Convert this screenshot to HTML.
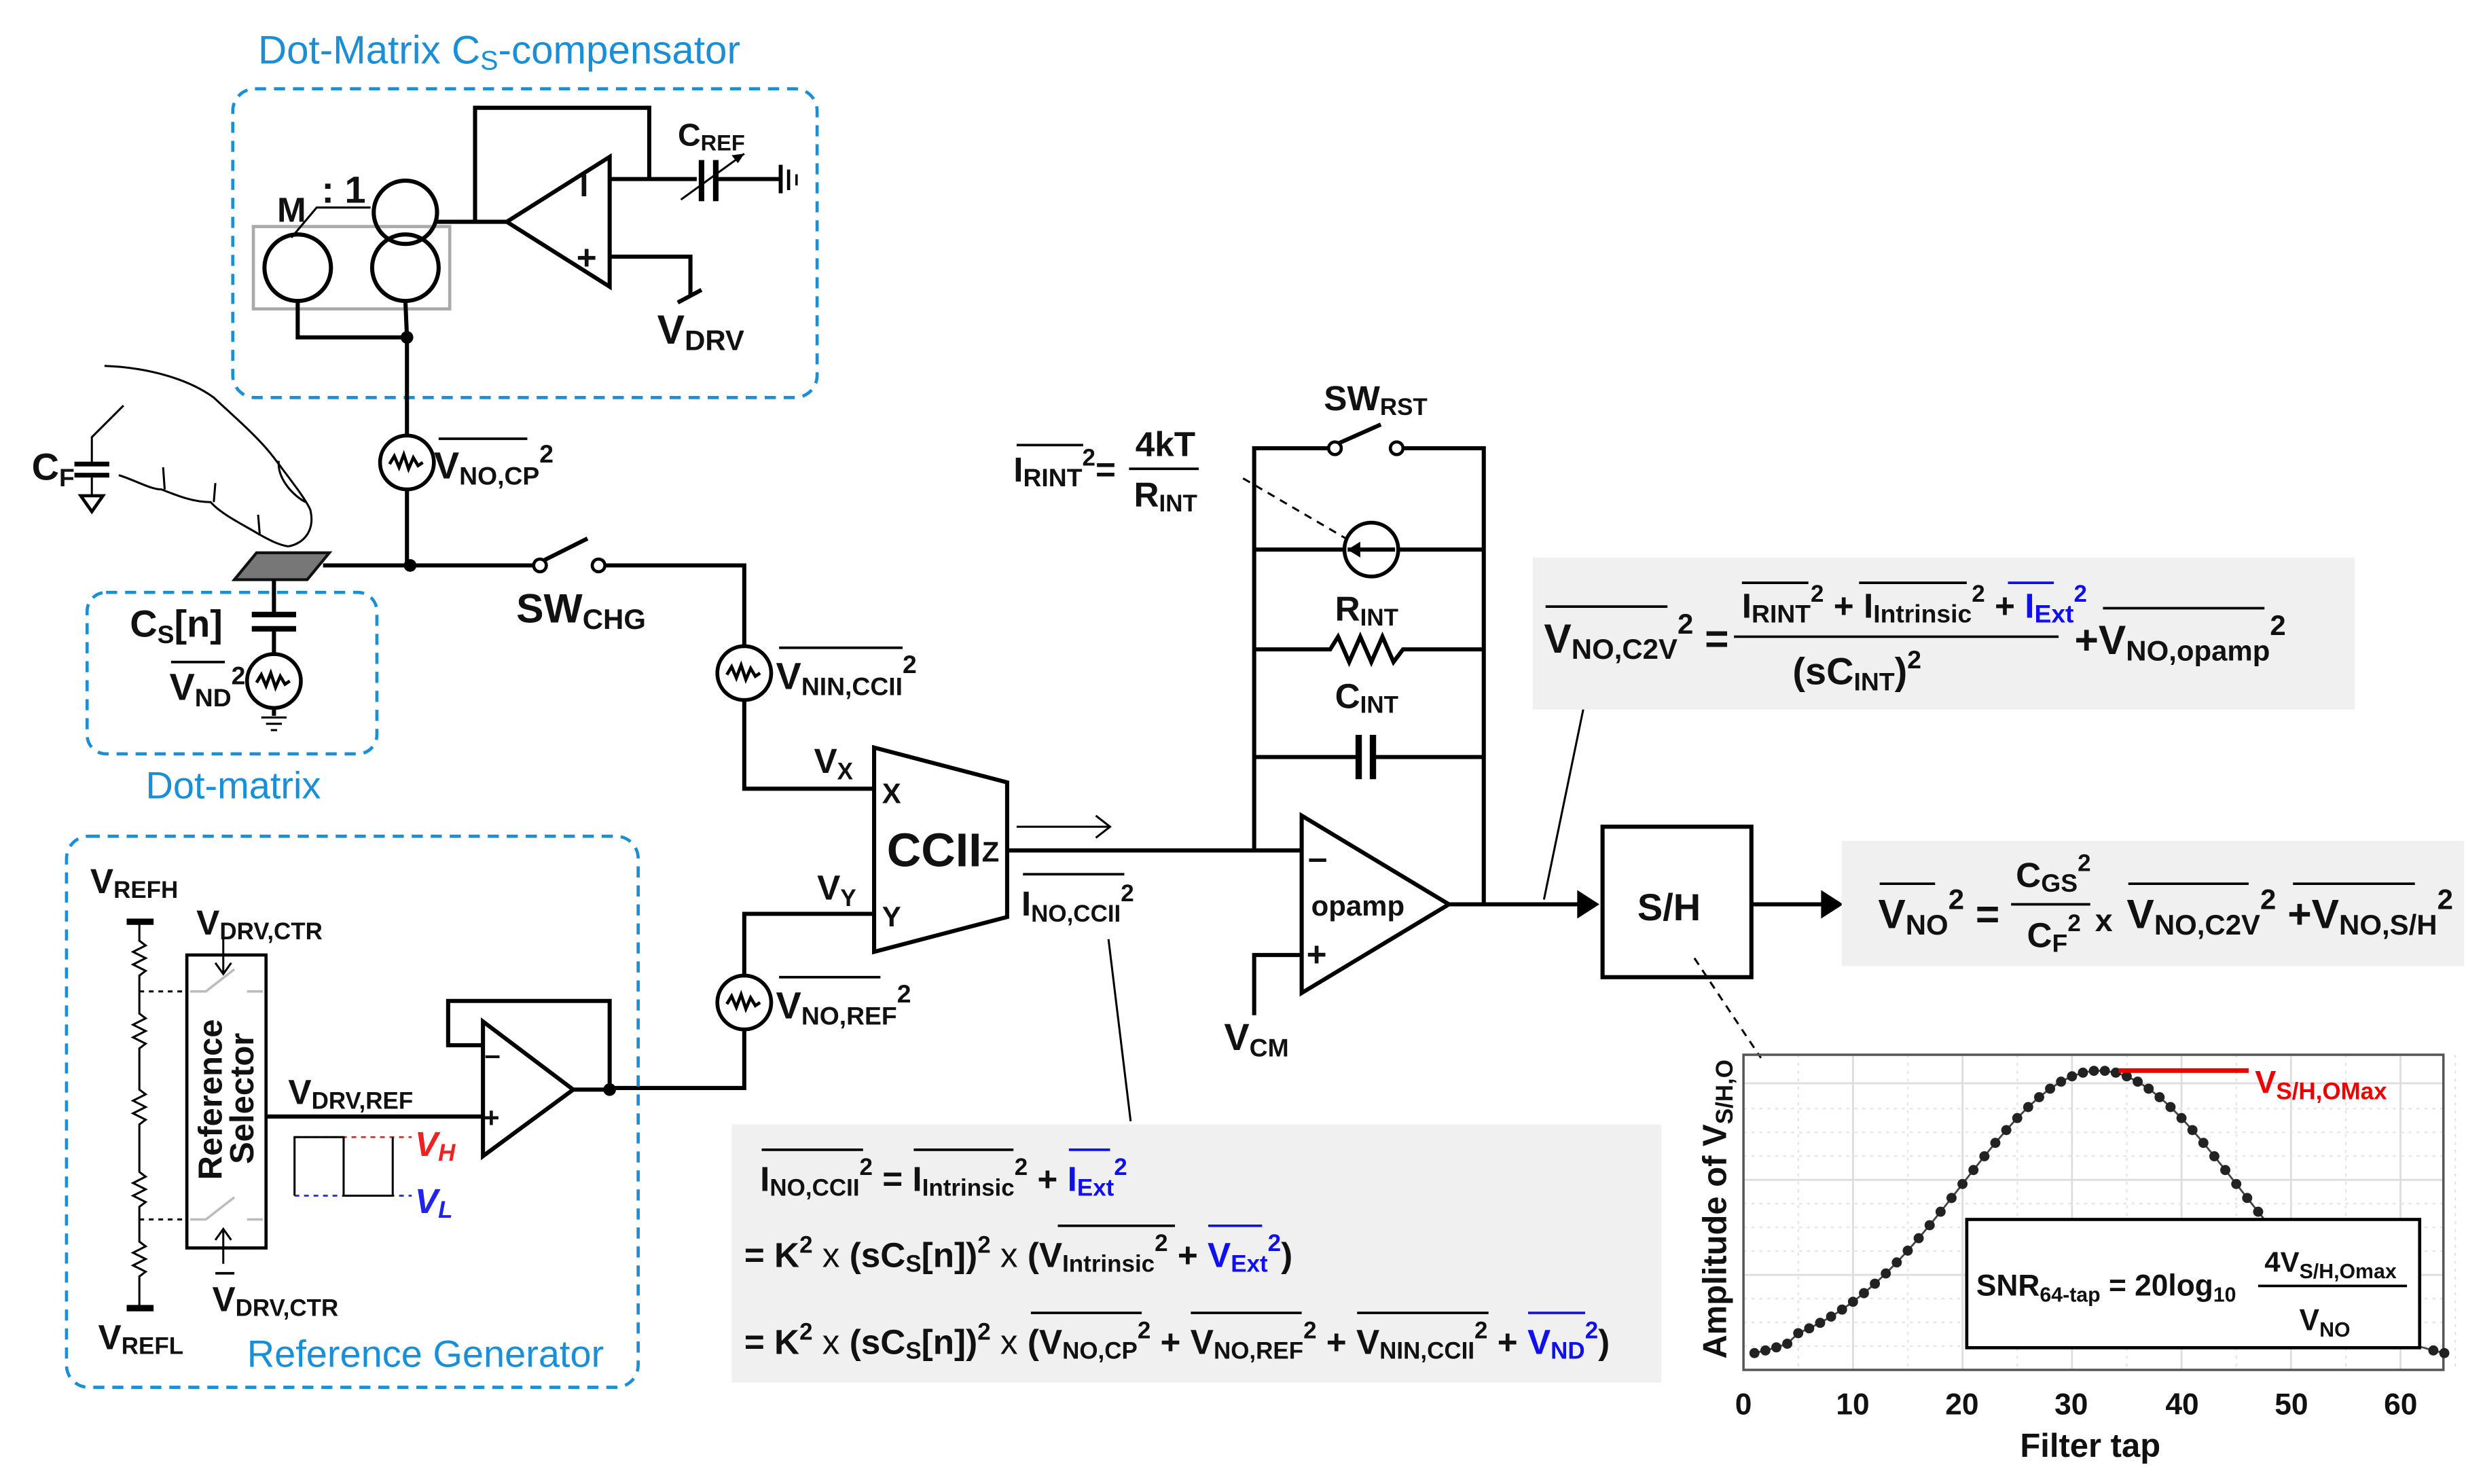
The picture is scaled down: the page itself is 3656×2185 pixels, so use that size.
<!DOCTYPE html>
<html><head><meta charset="utf-8"><style>
html,body{margin:0;padding:0;background:#fff}
svg{display:block}
text{font-family:"Liberation Sans Narrow","Liberation Sans",sans-serif;font-weight:bold;fill:#111}
.b{fill:#1a8fd6;font-weight:normal}
.w{stroke:#000;stroke-width:2.6;fill:none}
.t{stroke:#000;stroke-width:1.3;fill:none}
.ol{stroke:#000;stroke-width:1.6}
.bl{stroke:#1010ee;stroke-width:1.6}
</style></head><body>
<svg width="3656" height="2185" viewBox="0 0 1568 937" xmlns="http://www.w3.org/2000/svg">
<defs>
<g id="ns"><circle r="17" fill="#fff" stroke="#000" stroke-width="2.4"/><path d="M-11 1 l3 -5 l3 7 l3 -8 l3 9 l3 -7 l3 5 l3 -2" stroke="#000" stroke-width="2" fill="none"/></g>
</defs>

<!-- Dot-Matrix compensator -->
<text class="b" x="163" y="40" font-size="25">Dot-Matrix C<tspan font-size="17" dy="4">S</tspan><tspan dy="-4">-compensator</tspan></text>
<rect x="147" y="56" width="369" height="195" rx="14" fill="none" stroke="#1a8fd6" stroke-width="2" stroke-dasharray="7,5"/>
<polyline class="w" points="300,140 300,68 410,68 410,113"/>
<polygon class="w" points="320,140 385,99 385,181"/>
<text x="366" y="124" font-size="20">I</text>
<text x="364" y="170" font-size="22">+</text>
<line class="w" x1="385" y1="113" x2="440" y2="113"/>
<line x1="443" y1="101" x2="443" y2="127" stroke="#000" stroke-width="3.5"/>
<line x1="452" y1="101" x2="452" y2="127" stroke="#000" stroke-width="3.5"/>
<line class="w" x1="452" y1="113" x2="492" y2="113"/>
<line class="t" x1="430" y1="126" x2="470" y2="97"/><path d="M470 97 l-8 1 l4 5z" fill="#000"/>
<line x1="493" y1="104" x2="493" y2="122" stroke="#000" stroke-width="2.5"/>
<line x1="498" y1="107" x2="498" y2="120" stroke="#000" stroke-width="2"/>
<line x1="503" y1="110" x2="503" y2="117" stroke="#000" stroke-width="1.5"/>
<text x="428" y="92" font-size="20">C<tspan font-size="14" dy="3">REF</tspan></text>
<polyline class="w" points="385,162 436,162 436,187"/>
<line class="w" x1="428" y1="191" x2="443" y2="183"/>
<text x="415" y="217" font-size="26">V<tspan font-size="18" dy="4">DRV</tspan></text>
<rect x="160" y="143" width="124" height="52" fill="none" stroke="#aaa" stroke-width="2"/>
<circle class="w" cx="188" cy="169" r="21"/>
<circle class="w" cx="256" cy="169" r="21"/>
<circle class="w" cx="256" cy="134" r="20"/>
<line class="w" x1="276" y1="140" x2="320" y2="140"/>
<polyline class="t" points="184,150 200,131 234,131" stroke-width="2"/>
<text x="175" y="140" font-size="22">M</text>
<text x="203" y="128" font-size="24">: 1</text>
<polyline class="w" points="188,190 188,213 257,213"/>
<line class="w" x1="256" y1="190" x2="257" y2="213"/>
<circle cx="257" cy="213" r="4" fill="#000"/>
<line class="w" x1="257" y1="213" x2="257" y2="357"/>
<use href="#ns" x="257" y="292"/>
<text x="274" y="302" font-size="24">V<tspan font-size="16" dy="4">NO,CP</tspan><tspan font-size="16" dy="-14">2</tspan></text>
<line class="ol" x1="277" y1="277" x2="333" y2="277"/>

<!-- CF & finger -->
<text x="20" y="303" font-size="24">C<tspan font-size="16" dy="4">F</tspan></text>
<polyline class="t" stroke-width="2" points="78,256 58,276 58,293"/>
<line x1="47" y1="293" x2="69" y2="293" stroke="#000" stroke-width="3"/>
<line x1="47" y1="300" x2="69" y2="300" stroke="#000" stroke-width="3"/>
<line class="t" stroke-width="2" x1="58" y1="300" x2="58" y2="313"/>
<polygon points="51,313 65,313 58,323" fill="#fff" stroke="#000" stroke-width="2"/>
<path d="M66 231 C95 232 120 240 135 251 C150 265 163 276 173 289 C185 305 193 315 196 322 C199 335 192 343 182 345" class="t" stroke-width="3"/>
<path d="M75 300 C85 303 95 309 102 309 C112 313 122 317 133 317 C140 325 155 332 163 337 C170 341 176 344 182 345" class="t" stroke-width="3"/>
<path d="M103 295 L104 309 M136 305 L135 317 M163 325 L164 337" class="t" stroke-width="2.6"/>
<path d="M176 291 C175 302 185 313 193 317" class="t" stroke-width="2"/>
<polygon points="148,366 162,349 208,349 194,366" fill="#777" stroke="#111" stroke-width="1.8"/>
<line class="w" x1="204" y1="357" x2="337" y2="357"/>
<circle cx="259" cy="357" r="4" fill="#000"/>
<circle cx="341" cy="357" r="4" fill="#fff" stroke="#000" stroke-width="2"/>
<circle cx="378" cy="357" r="4" fill="#fff" stroke="#000" stroke-width="2"/>
<line class="w" x1="343" y1="354" x2="371" y2="340"/>
<polyline class="w" points="382,357 470,357 470,498 552,498"/>
<text x="326" y="393" font-size="26">SW<tspan font-size="18" dy="4">CHG</tspan></text>
<use href="#ns" x="470" y="425"/>
<text x="490" y="435" font-size="24">V<tspan font-size="16" dy="4">NIN,CCII</tspan><tspan font-size="16" dy="-14">2</tspan></text>
<line class="ol" x1="492" y1="409" x2="570" y2="409"/>

<!-- Cs -->
<line class="w" x1="173" y1="366" x2="173" y2="387"/>
<line x1="159" y1="388" x2="187" y2="388" stroke="#000" stroke-width="3.5"/>
<line x1="159" y1="397" x2="187" y2="397" stroke="#000" stroke-width="3.5"/>
<line class="w" x1="173" y1="397" x2="173" y2="452"/>
<use href="#ns" x="173" y="430"/>
<line class="t" stroke-width="2" x1="165" y1="453" x2="181" y2="453"/>
<line class="t" stroke-width="2" x1="168" y1="457" x2="178" y2="457"/>
<line class="t" stroke-width="2" x1="171" y1="461" x2="175" y2="461"/>
<text x="82" y="402" font-size="24">C<tspan font-size="16" dy="4">S</tspan><tspan dy="-4">[n]</tspan></text>
<text x="107" y="442" font-size="24">V<tspan font-size="16" dy="4">ND</tspan><tspan font-size="16" dy="-14">2</tspan></text>
<line class="ol" x1="108" y1="418" x2="142" y2="418"/>
<rect x="55" y="374" width="183" height="102" rx="12" fill="none" stroke="#1a8fd6" stroke-width="2" stroke-dasharray="7,5"/>
<text class="b" x="92" y="504" font-size="24">Dot-matrix</text>

<!-- CCII -->
<polygon class="w" points="552,472 636,494 636,579 552,601"/>
<text x="514" y="488" font-size="22">V<tspan font-size="15" dy="4">X</tspan></text>
<text x="516" y="568" font-size="22">V<tspan font-size="15" dy="4">Y</tspan></text>
<text x="557" y="507" font-size="18">X</text>
<text x="557" y="585" font-size="18">Y</text>
<text x="560" y="547" font-size="30">CCII</text>
<text x="620" y="544" font-size="18" font-weight="normal">Z</text>
<line class="w" x1="636" y1="537" x2="822" y2="537"/>
<line class="t" stroke-width="2" x1="642" y1="522" x2="700" y2="522"/>
<path d="M692 515 L701 522 L692 529" class="t" stroke-width="2"/>
<text x="645" y="578" font-size="22">I<tspan font-size="15" dy="4">NO,CCII</tspan><tspan font-size="15" dy="-13">2</tspan></text>
<line class="ol" x1="646" y1="552" x2="710" y2="552"/>
<line class="t" x1="700" y1="593" x2="714" y2="708"/>
<polyline class="w" points="552,577 470,577 470,687 385,687"/>
<use href="#ns" x="470" y="633"/>
<text x="490" y="643" font-size="24">V<tspan font-size="16" dy="4">NO,REF</tspan><tspan font-size="16" dy="-14">2</tspan></text>
<line class="ol" x1="492" y1="617" x2="556" y2="617"/>

<!-- Integrator -->
<text x="640" y="304" font-size="22">I<tspan font-size="16" dy="3">RINT</tspan><tspan font-size="15" dy="-13">2</tspan><tspan dy="10">=</tspan></text>
<line class="ol" x1="642" y1="281" x2="684" y2="281"/>
<text x="717" y="288" font-size="22">4kT</text>
<line class="ol" x1="713" y1="296" x2="757" y2="296"/>
<text x="716" y="320" font-size="22">R<tspan font-size="15" dy="3">INT</tspan></text>
<line class="t" x1="785" y1="302" x2="850" y2="340" stroke-dasharray="5,4"/>
<polyline class="w" points="792,537 792,283 840,283"/>
<polyline class="w" points="885,283 937,283 937,570"/>
<circle cx="843" cy="283" r="4" fill="#fff" stroke="#000" stroke-width="2"/>
<circle cx="882" cy="283" r="4" fill="#fff" stroke="#000" stroke-width="2"/>
<line class="w" x1="845" y1="280" x2="872" y2="268"/>
<text x="836" y="259" font-size="22">SW<tspan font-size="15" dy="3">RST</tspan></text>
<line class="w" x1="792" y1="347" x2="937" y2="347"/>
<circle cx="866" cy="347" r="17" fill="#fff" stroke="#000" stroke-width="2.4"/>
<line class="w" x1="851" y1="347" x2="881" y2="347"/><path d="M851 347 l8 -5 l0 10z" fill="#000"/>
<text x="843" y="392" font-size="22">R<tspan font-size="15" dy="3">INT</tspan></text>
<polyline class="w" points="792,410 840,410 845,402 852,418 859,402 866,418 873,402 880,418 886,410 937,410"/>
<text x="843" y="447" font-size="22">C<tspan font-size="15" dy="3">INT</tspan></text>
<line class="w" x1="792" y1="478" x2="857" y2="478"/>
<line class="w" x1="867" y1="478" x2="937" y2="478"/>
<line x1="858" y1="464" x2="858" y2="492" stroke="#000" stroke-width="4"/>
<line x1="867" y1="464" x2="867" y2="492" stroke="#000" stroke-width="4"/>
<polygon class="w" points="822,515 822,627 915,571"/>
<text x="826" y="549" font-size="22">–</text>
<text x="828" y="578" font-size="18" font-weight="normal">opamp</text>
<text x="825" y="610" font-size="22">+</text>
<polyline class="w" points="822,603 792,603 792,641"/>
<text x="773" y="663" font-size="24">V<tspan font-size="16" dy="4">CM</tspan></text>
<line class="w" x1="915" y1="571" x2="998" y2="571"/>
<path d="M996 562 L1010 571 L996 580z" fill="#000"/>
<rect x="1012" y="522" width="94" height="95" class="w"/>
<text x="1034" y="581" font-size="24">S/H</text>
<line class="w" x1="1106" y1="571" x2="1152" y2="571"/>
<path d="M1150 562 L1164 571 L1150 580z" fill="#000"/>
<line class="t" x1="975" y1="568" x2="1000" y2="447"/>
<line class="t" x1="1070" y1="605" x2="1112" y2="668" stroke-dasharray="5,4"/>

<!-- C2V eq -->
<rect x="968" y="352" width="519" height="96" fill="#f0f0f0"/>
<text x="975" y="412" font-size="26">V<tspan font-size="18" dy="4">NO,C2V</tspan><tspan font-size="18" dy="-16">2</tspan><tspan dy="12"> =</tspan></text>
<line class="ol" x1="976" y1="383" x2="1053" y2="383"/>
<text x="1100" y="390" font-size="22">I<tspan font-size="16" dy="3">RINT</tspan><tspan font-size="15" dy="-13">2</tspan><tspan dy="10"> + I</tspan><tspan font-size="16" dy="3">Intrinsic</tspan><tspan font-size="15" dy="-13">2</tspan><tspan dy="10"> + </tspan><tspan style="fill:#1010ee">I</tspan><tspan style="fill:#1010ee" font-size="16" dy="3">Ext</tspan><tspan style="fill:#1010ee" font-size="15" dy="-13">2</tspan></text>
<line class="ol" x1="1100" y1="368" x2="1142" y2="368"/>
<line class="ol" x1="1174" y1="368" x2="1242" y2="368"/>
<line class="bl" x1="1268" y1="368" x2="1297" y2="368"/>
<line class="ol" x1="1095" y1="402" x2="1300" y2="402"/>
<text x="1132" y="432" font-size="24">(sC<tspan font-size="16" dy="4">INT</tspan><tspan dy="-4">)</tspan><tspan font-size="16" dy="-10">2</tspan></text>
<text x="1310" y="413" font-size="26">+V<tspan font-size="18" dy="4">NO,opamp</tspan><tspan font-size="18" dy="-16">2</tspan></text>
<line class="ol" x1="1328" y1="384" x2="1430" y2="384"/>

<!-- VNO eq -->
<rect x="1163" y="531" width="393" height="79" fill="#f0f0f0"/>
<text x="1186" y="586" font-size="26">V<tspan font-size="18" dy="4">NO</tspan><tspan font-size="18" dy="-16">2</tspan><tspan dy="12"> =</tspan></text>
<line class="ol" x1="1187" y1="558" x2="1222" y2="558"/>
<text x="1273" y="560" font-size="22">C<tspan font-size="16" dy="3">GS</tspan><tspan font-size="15" dy="-13">2</tspan></text>
<line class="ol" x1="1270" y1="571" x2="1320" y2="571"/>
<text x="1280" y="598" font-size="22">C<tspan font-size="16" dy="3">F</tspan><tspan font-size="15" dy="-13">2</tspan></text>
<text x="1323" y="588" font-size="20" font-weight="normal">x</text>
<text x="1343" y="586" font-size="26">V<tspan font-size="18" dy="4">NO,C2V</tspan><tspan font-size="18" dy="-16">2</tspan><tspan dy="12"> +V</tspan><tspan font-size="18" dy="4">NO,S/H</tspan><tspan font-size="18" dy="-16">2</tspan></text>
<line class="ol" x1="1344" y1="558" x2="1420" y2="558"/>
<line class="ol" x1="1448" y1="558" x2="1525" y2="558"/>

<!-- Reference generator -->
<rect x="42" y="528" width="361" height="348" rx="14" fill="none" stroke="#1a8fd6" stroke-width="2" stroke-dasharray="7,5"/>
<text x="57" y="564" font-size="22">V<tspan font-size="15" dy="3">REFH</tspan></text>
<text x="62" y="852" font-size="22">V<tspan font-size="15" dy="3">REFL</tspan></text>
<line x1="80" y1="582" x2="97" y2="582" stroke="#000" stroke-width="4"/>
<line x1="80" y1="826" x2="97" y2="826" stroke="#000" stroke-width="4"/>
<path class="t" stroke-width="2" d="M88 582 L88 594 l4 3 l-8 4 l8 4 l-8 4 l8 4 l-4 3 L88 640 l4 3 l-8 4 l8 4 l-8 4 l8 4 l-4 3 L88 688 l4 3 l-8 4 l8 4 l-8 4 l8 4 l-4 3 L88 740 l4 3 l-8 4 l8 4 l-8 4 l8 4 l-4 3 L88 784 l4 3 l-8 4 l8 4 l-8 4 l8 4 l-4 3 L88 826"/>
<line class="t" x1="88" y1="626" x2="118" y2="626" stroke-dasharray="3,3"/>
<line class="t" x1="88" y1="770" x2="118" y2="770" stroke-dasharray="3,3"/>
<rect x="118" y="603" width="50" height="185" fill="none" stroke="#000" stroke-width="2"/>
<path d="M120 626 L130 626 L148 612 M156 626 L166 626 M120 770 L130 770 L148 756 M156 770 L166 770" stroke="#bbb" stroke-width="1.5" fill="none"/>
<text transform="translate(140,745) rotate(-90)" font-size="21" font-family="Liberation Sans">Reference</text>
<text transform="translate(160,735) rotate(-90)" font-size="21" font-family="Liberation Sans">Selector</text>
<text x="124" y="590" font-size="22">V<tspan font-size="15" dy="3">DRV,CTR</tspan></text>
<line class="t" x1="141" y1="592" x2="141" y2="614"/><path d="M136 608 L141 615 L146 608" class="t"/>
<line class="t" x1="141" y1="798" x2="141" y2="776"/><path d="M136 783 L141 776 L146 783" class="t"/>
<text x="134" y="828" font-size="22">V<tspan font-size="15" dy="3">DRV,CTR</tspan></text>
<line class="ol" x1="136" y1="804" x2="148" y2="804"/>
<text x="182" y="697" font-size="22">V<tspan font-size="15" dy="3">DRV,REF</tspan></text>
<line class="w" x1="168" y1="705" x2="305" y2="705"/>
<polygon class="w" points="305,645 305,730 362,688"/>
<text x="306" y="672" font-size="18">–</text>
<text x="305" y="712" font-size="18">+</text>
<polyline class="w" points="305,660 283,660 283,632 385,632 385,687"/>
<line class="w" x1="362" y1="688" x2="385" y2="688"/>
<circle cx="385" cy="688" r="4" fill="#000"/>
<line x1="186" y1="718" x2="260" y2="718" stroke="#e22" stroke-width="1.2" stroke-dasharray="3,3"/>
<line x1="186" y1="755" x2="260" y2="755" stroke="#22e" stroke-width="1.2" stroke-dasharray="3,3"/>
<polyline class="t" stroke-width="2" points="186,755 186,718 217,718 217,755 248,755 248,718"/>
<text x="262" y="730" font-size="22" style="fill:#e22;font-style:italic">V<tspan font-size="15" dy="3">H</tspan></text>
<text x="262" y="766" font-size="22" style="fill:#22e;font-style:italic">V<tspan font-size="15" dy="3">L</tspan></text>
<text class="b" x="156" y="863" font-size="24">Reference Generator</text>

<!-- Bottom eq -->
<rect x="462" y="710" width="587" height="163" fill="#f0f0f0"/>
<text x="480" y="752" font-size="22">I<tspan font-size="15" dy="3">NO,CCII</tspan><tspan font-size="15" dy="-13">2</tspan><tspan dy="10">   =  I</tspan><tspan font-size="15" dy="3">Intrinsic</tspan><tspan font-size="15" dy="-13">2</tspan><tspan dy="10"> + </tspan><tspan style="fill:#1010ee">I</tspan><tspan style="fill:#1010ee" font-size="15" dy="3">Ext</tspan><tspan style="fill:#1010ee" font-size="15" dy="-13">2</tspan></text>
<line class="ol" x1="481" y1="726" x2="545" y2="726"/>
<line class="ol" x1="577" y1="726" x2="640" y2="726"/>
<line class="bl" x1="675" y1="726" x2="701" y2="726"/>
<text x="470" y="800" font-size="22">= K<tspan font-size="15" dy="-9">2</tspan><tspan dy="9" font-weight="normal"> x </tspan><tspan>(sC</tspan><tspan font-size="15" dy="3">S</tspan><tspan dy="-3">[n])</tspan><tspan font-size="15" dy="-9">2</tspan><tspan dy="9" font-weight="normal"> x </tspan><tspan>(V</tspan><tspan font-size="15" dy="3">Intrinsic</tspan><tspan font-size="15" dy="-13">2</tspan><tspan dy="10"> + </tspan><tspan style="fill:#1010ee">V</tspan><tspan style="fill:#1010ee" font-size="15" dy="3">Ext</tspan><tspan style="fill:#1010ee" font-size="15" dy="-13">2</tspan><tspan dy="10">)</tspan></text>
<line class="ol" x1="668" y1="774" x2="742" y2="774"/>
<line class="bl" x1="763" y1="774" x2="797" y2="774"/>
<text x="470" y="855" font-size="22">= K<tspan font-size="15" dy="-9">2</tspan><tspan dy="9" font-weight="normal"> x </tspan><tspan>(sC</tspan><tspan font-size="15" dy="3">S</tspan><tspan dy="-3">[n])</tspan><tspan font-size="15" dy="-9">2</tspan><tspan dy="9" font-weight="normal"> x </tspan><tspan>(V</tspan><tspan font-size="15" dy="3">NO,CP</tspan><tspan font-size="15" dy="-13">2</tspan><tspan dy="10"> + V</tspan><tspan font-size="15" dy="3">NO,REF</tspan><tspan font-size="15" dy="-13">2</tspan><tspan dy="10"> + V</tspan><tspan font-size="15" dy="3">NIN,CCII</tspan><tspan font-size="15" dy="-13">2</tspan><tspan dy="10"> + </tspan><tspan style="fill:#1010ee">V</tspan><tspan style="fill:#1010ee" font-size="15" dy="3">ND</tspan><tspan style="fill:#1010ee" font-size="15" dy="-13">2</tspan><tspan dy="10">)</tspan></text>
<line class="ol" x1="651" y1="829" x2="721" y2="829"/>
<line class="ol" x1="752" y1="829" x2="822" y2="829"/>
<line class="ol" x1="857" y1="829" x2="940" y2="829"/>
<line class="bl" x1="965" y1="829" x2="1001" y2="829"/>

<!-- Chart -->
<g id="grid"></g>
<rect x="1101" y="666" width="442" height="199" fill="none" stroke="#555" stroke-width="1.5"/>
<polyline id="curve" fill="none" stroke="#444" stroke-width="1.2" points=""/>
<g id="dots"></g>
<line x1="1338" y1="676" x2="1420" y2="676" stroke="#e00" stroke-width="3"/>
<text x="1424" y="690" font-size="20" style="fill:#e00">V<tspan font-size="15" dy="4">S/H,OMax</tspan></text>
<rect x="1242" y="770" width="286" height="81" fill="#fff" stroke="#000" stroke-width="2"/>
<text x="1248" y="818" font-size="19">SNR<tspan font-size="13" dy="4">64-tap</tspan><tspan dy="-4"> = 20log</tspan><tspan font-size="13" dy="4">10</tspan></text>
<text x="1430" y="803" font-size="18">4V<tspan font-size="13" dy="4">S/H,Omax</tspan></text>
<line class="ol" x1="1426" y1="812" x2="1520" y2="812" stroke-width="2"/>
<text x="1452" y="840" font-size="19">V<tspan font-size="13" dy="4">NO</tspan></text>
<g font-size="19">
<text x="1101" y="893" text-anchor="middle" font-weight="normal">0</text>
<text x="1170" y="893" text-anchor="middle" font-weight="normal">10</text>
<text x="1239" y="893" text-anchor="middle" font-weight="normal">20</text>
<text x="1308" y="893" text-anchor="middle" font-weight="normal">30</text>
<text x="1378" y="893" text-anchor="middle" font-weight="normal">40</text>
<text x="1447" y="893" text-anchor="middle" font-weight="normal">50</text>
<text x="1516" y="893" text-anchor="middle" font-weight="normal">60</text>
</g>
<text x="1320" y="920" font-size="21" text-anchor="middle">Filter tap</text>
<text transform="translate(1090,858) rotate(-90)" font-size="21" font-family="Liberation Sans">Amplitude of V<tspan font-size="15" dy="4">S/H,O</tspan></text>
<script>
(function(){
var ns="http://www.w3.org/2000/svg",g=document.getElementById("dots"),gr=document.getElementById("grid"),pts=[];
for(var i=0;i<=6;i++){var x=1101+i*69.15;var l=document.createElementNS(ns,"line");l.setAttribute("x1",x);l.setAttribute("x2",x);l.setAttribute("y1",666);l.setAttribute("y2",865);l.setAttribute("stroke","#ddd");l.setAttribute("stroke-width","1.2");gr.appendChild(l);
var l2=document.createElementNS(ns,"line");l2.setAttribute("x1",x+34.6);l2.setAttribute("x2",x+34.6);l2.setAttribute("y1",666);l2.setAttribute("y2",865);l2.setAttribute("stroke","#e6e6e6");l2.setAttribute("stroke-dasharray","2,3");gr.appendChild(l2);}
[684,745,805].forEach(function(y){var l=document.createElementNS(ns,"line");l.setAttribute("x1",1101);l.setAttribute("x2",1543);l.setAttribute("y1",y);l.setAttribute("y2",y);l.setAttribute("stroke","#ddd");l.setAttribute("stroke-width","1.2");gr.appendChild(l);});
[700,715,730,760,775,790,820,835,850].forEach(function(y){var l=document.createElementNS(ns,"line");l.setAttribute("x1",1101);l.setAttribute("x2",1543);l.setAttribute("y1",y);l.setAttribute("y2",y);l.setAttribute("stroke","#e6e6e6");l.setAttribute("stroke-dasharray","2,3");gr.appendChild(l);});
for(var t=1;t<=64;t++){var d=(t-32.5)/12.5;var y=858-182*Math.exp(-d*d/2)+ (t<5||t>60?4:0);var x=1101+t*6.915;pts.push(x+","+y);
if(t>=38&&t<=62&&y>768)continue;
var c=document.createElementNS(ns,"circle");c.setAttribute("cx",x);c.setAttribute("cy",y);c.setAttribute("r",3.2);c.setAttribute("fill","#222");g.appendChild(c);}
document.getElementById("curve").setAttribute("points",pts.join(" "));
})();
</script>
</svg>
</body></html>
